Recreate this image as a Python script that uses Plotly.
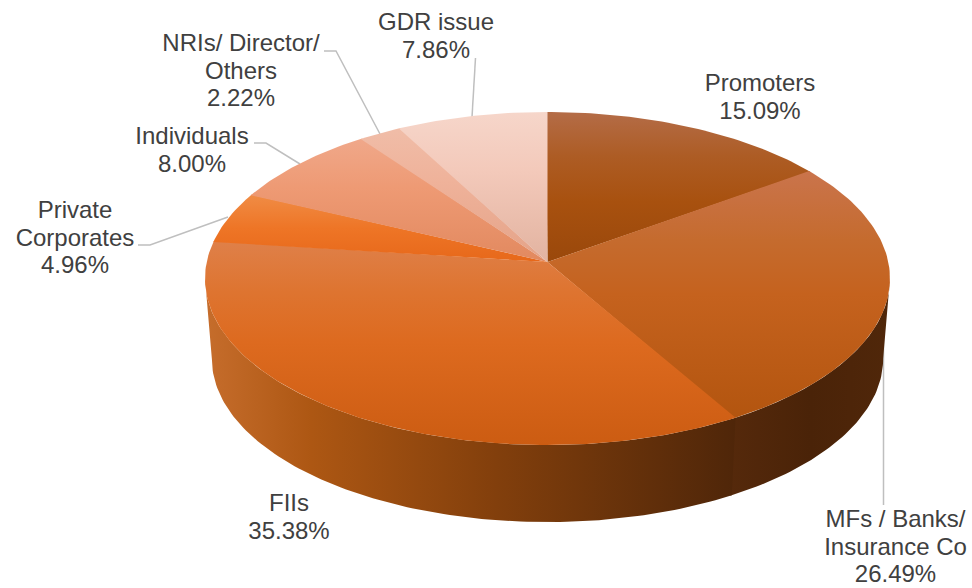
import numpy as np
import plotly.graph_objects as go

# --- data ---
categories = ["Promoters", "MFs / Banks/ Insurance Co", "FIIs", "Private Corporates",
              "Individuals", "NRIs/ Director/ Others", "GDR issue"]
shares = [15.09, 26.49, 35.38, 4.96, 8.00, 2.22, 7.86]
# stops run from the bottom of each slice (0) to its top (1)
top_colours = [
    [[0, "#9A480B"], [0.4, "#A8510F"], [0.7, "#AD5C24"], [1, "#B46C47"]],
    [[0, "#B3550F"], [0.5, "#C5621E"], [0.72, "#C56B2E"], [1, "#CA744C"]],
    [[0, "#CC5C12"], [0.5, "#DD6A1F"], [0.75, "#DE7430"], [1, "#DF8049"]],
    [[0, "#E7681A"], [0.5, "#EE7526"], [1, "#F08C45"]],
    [[0, "#E2895F"], [0.6, "#EE9A74"], [1, "#F0A88A"]],
    [[0, "#E4A388"], [0.6, "#EFB29A"], [1, "#F0BDA8"]],
    [[0, "#E2B3A0"], [0.6, "#F3C9BA"], [1, "#F6D6CA"]],
]
wall_colours = {
    1: [[0, "#55290B"], [0.5, "#4A2308"], [1, "#50270A"]],
    2: [[0, "#C66D2C"], [0.2, "#AD5713"], [0.55, "#823F0C"], [1, "#4F2609"]],
}
label_lines = {
    "Promoters": ["Promoters"],
    "MFs / Banks/ Insurance Co": ["MFs / Banks/", "Insurance Co"],
    "FIIs": ["FIIs"],
    "Private Corporates": ["Private", "Corporates"],
    "Individuals": ["Individuals"],
    "NRIs/ Director/ Others": ["NRIs/ Director/", "Others"],
    "GDR issue": ["GDR issue"],
}
label_anchor = {  # centre x, first-line centre y
    "Promoters": (760, 85),
    "MFs / Banks/ Insurance Co": (895.5, 521),
    "FIIs": (289, 505),
    "Private Corporates": (75, 212),
    "Individuals": (192, 138),
    "NRIs/ Director/ Others": (241, 45),
    "GDR issue": (436, 24),
}
leaders = [
    ([475.5, 472], [58, 117]),
    ([324, 336, 380], [51, 51, 134]),
    ([254, 266, 300], [143, 143, 164]),
    ([138, 150, 228], [245, 245, 217]),
    ([883.5, 883.5], [505, 300]),
]

# --- perspective geometry of the disc ---
CX, CY, A, B, P = 547.5, 262.0, 340.8, 164.9, 0.0991
DEPTH, SHRINK = 80.7, 0.98
PAD = np.radians(0.3)
WALL_FROM = np.arccos(-P)          # where the disc is widest on the right
WALL_TO = 2 * np.pi - WALL_FROM    # and on the left


def ring(theta, bottom=False):
    u, v = np.sin(theta), -np.cos(theta)
    w = 1 - P * v
    s = SHRINK if bottom else 1.0
    return CX + s * A * u / w, CY + (DEPTH if bottom else 0) + s * B * v / w


edges = np.concatenate([[0], np.cumsum(shares)]) / sum(shares) * 2 * np.pi


def arc(i, before=0.0, after=0.0, lo=-np.inf, hi=np.inf):
    a, b = max(edges[i] - before, lo), min(edges[i + 1] + after, hi)
    n = max(int((b - a) / np.radians(1)), 2)
    return np.linspace(a, b, n)


fig = go.Figure()

for lx, ly in leaders:
    fig.add_trace(go.Scatter(x=lx, y=ly, mode="lines", hoverinfo="skip",
                             line=dict(color="#BFBFBF", width=1.5)))

# side wall: only its visible stretch; the first part runs a little under the second
for i, cs in wall_colours.items():
    t = arc(i, after=PAD if i == 1 else 0.0, lo=WALL_FROM, hi=WALL_TO)
    x0, y0 = ring(t)
    x1, y1 = ring(t, bottom=True)
    fig.add_trace(go.Scatter(
        x=np.r_[x0, x1[::-1]], y=np.r_[y0, y1[::-1]], mode="lines", fill="toself",
        line=dict(width=0), hoverinfo="skip",
        fillgradient=dict(type="horizontal", colorscale=cs),
    ))

# top face
for i, name in enumerate(categories):
    last = i == len(categories) - 1
    x, y = ring(arc(i, before=PAD if i == 0 else 0.0, after=0.0 if last else PAD))
    fig.add_trace(go.Scatter(
        x=np.r_[CX, x, CX], y=np.r_[CY, y, CY], mode="lines", fill="toself",
        line=dict(width=0), name=name, hoverinfo="name",
        fillgradient=dict(type="vertical", colorscale=top_colours[i]),
    ))

# labels
tx, ty, tt = [], [], []
for name, val in zip(categories, shares):
    ax, ay = label_anchor[name]
    rows = label_lines[name] + [f"{val:.2f}%"]
    for k, row in enumerate(rows):
        tx.append(ax)
        ty.append(ay + k * 27.5)
        tt.append(row)
fig.add_trace(go.Scatter(x=tx, y=ty, text=tt, mode="text", textposition="middle center",
                         hoverinfo="skip", cliponaxis=False,
                         textfont=dict(family="Liberation Sans", size=24, color="#404040")))

fig.update_layout(
    width=972, height=588, margin=dict(l=0, r=0, t=0, b=0), showlegend=False,
    paper_bgcolor="white", plot_bgcolor="white",
    xaxis=dict(range=[0, 972], visible=False, fixedrange=True),
    yaxis=dict(range=[588, 0], visible=False, fixedrange=True),
)
fig.write_html("out.html", config={"displayModeBar": False},
               post_script="document.body.style.margin='0';document.documentElement.style.overflow='hidden';")
